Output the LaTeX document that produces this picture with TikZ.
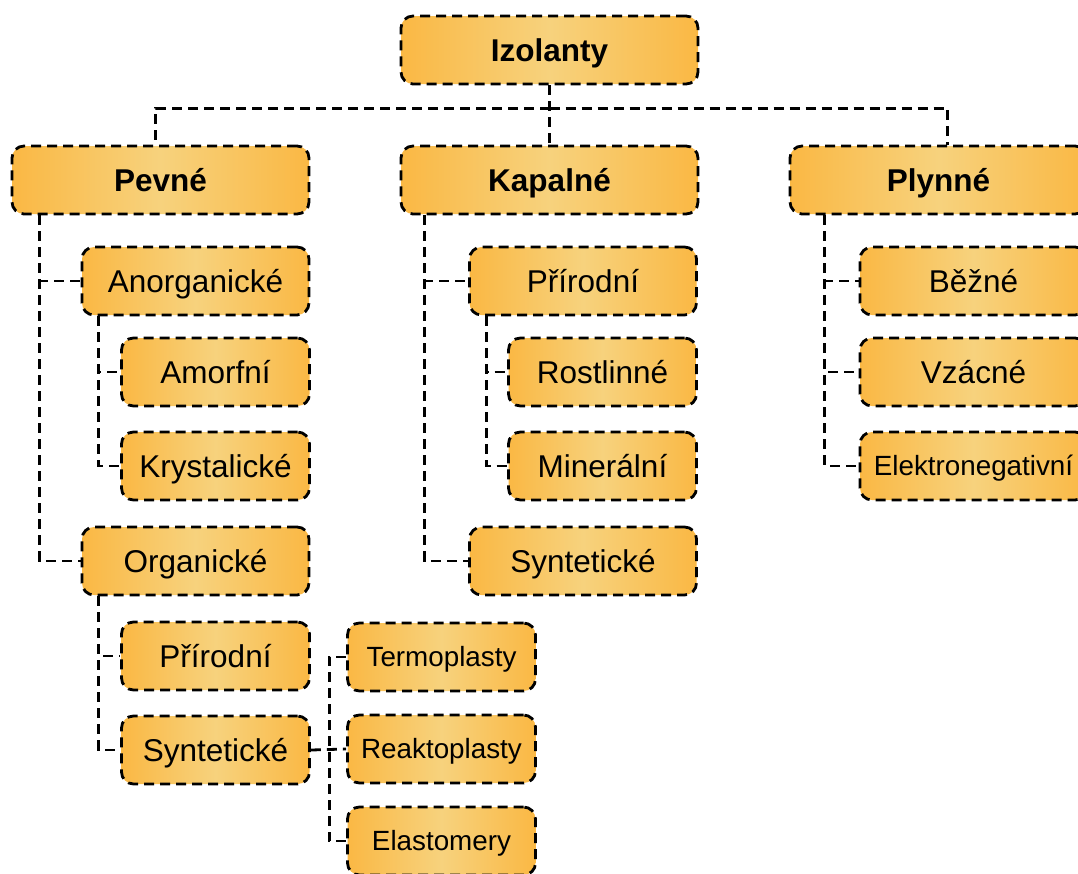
\documentclass[tikz,border=0pt]{standalone}
\usepackage{fontspec}
\setmainfont{Liberation Sans}
\usepackage{tikz}
\usetikzlibrary{shapes,arrows,positioning}

\definecolor{boxedge}{RGB}{250,184,68}
\definecolor{boxmid}{RGB}{247,210,125}

\begin{document}
\begin{tikzpicture}[x=1pt, y=-1pt,
      block_base/.style ={rectangle, rounded corners=12pt, draw=black,
        line width=2.8pt, dash pattern=on 10pt off 6pt,
        left color=boxedge, right color=boxedge, middle color=boxmid,
        text centered, inner sep=0pt, minimum height=68pt,
        text height=22.6pt, text depth=0pt},
      block_head/.style ={block_base, minimum width=297pt,
        font=\fontsize{31.5}{36}\selectfont\bfseries},
      block_wide/.style ={block_base, minimum width=227pt,
        font=\fontsize{31.5}{36}\selectfont},
      block_narrow/.style ={block_base, minimum width=188pt,
        font=\fontsize{31.5}{36}\selectfont},
      block_small/.style ={block_base, minimum width=188pt,
        text height=19.9pt, font=\fontsize{27.8}{32}\selectfont},
      block_gas/.style ={block_base, minimum width=227pt,
        font=\fontsize{31.5}{36}\selectfont},
      line/.style ={draw, line width=2.8pt, dash pattern=on 10pt off 6pt}]
    \clip (0,0) rectangle (1078,873);
    \useasboundingbox (0,0) rectangle (1078,873);
    %
    % 1. top level
    \node [block_head] (izol) at (549.5,50) {Izolanty};
    \node [block_head] (pevne) at (160.5,180) {Pevné};
    \node [block_head] (kapal) at (549.5,180) {Kapalné};
    \node [block_head] (plyn) at (938.5,180) {Plynné};
    %
    % 2. solids
    \node [block_wide] (anorg) at (195.5,281) {Anorganické};
    \node [block_narrow] (amorf) at (215.5,372) {Amorfní};
    \node [block_narrow] (kryst) at (215.5,466) {Krystalické};
    \node [block_wide] (org) at (195.5,561) {Organické};
    \node [block_narrow] (org_prir) at (215.5,656) {Přírodní};
    \node [block_narrow] (org_synt) at (215.5,750) {Syntetické};
    \node [block_small] (termo) at (441.5,657) {Termoplasty};
    \node [block_small] (reakto) at (441.5,749) {Reaktoplasty};
    \node [block_small] (elast) at (441.5,841) {Elastomery};
    %
    % 3. liquids
    \node [block_wide] (kap_prir) at (583,281) {Přírodní};
    \node [block_narrow] (rostl) at (602.5,372) {Rostlinné};
    \node [block_narrow] (miner) at (602.5,466) {Minerální};
    \node [block_wide] (kap_synt) at (583,561) {Syntetické};
    %
    % 4. gases
    \node [block_gas] (bezne) at (973.5,281) {Běžné};
    \node [block_gas] (vzacne) at (973.5,372) {Vzácné};
    \node [block_small, minimum width=227pt] (elneg) at (973.5,466) {Elektronegativní};
    %
    % 5. connecting nodes with paths
    \coordinate (hub) at ([yshift=-23pt]izol.south);
    \begin{scope}[every path/.style=line]
      % top level
      \path (izol.south) -- (kapal.north);
      \path (hub) -| ([xshift=-5pt]pevne.north);
      \path (hub) -| ([xshift=9pt]plyn.north);
      % solids
      \path ([xshift=29pt]pevne.south west) |- (anorg.west);
      \path ([xshift=29pt]pevne.south west) |- (org.west);
      \path ([xshift=18pt]anorg.south west) |- (amorf.west);
      \path ([xshift=18pt]anorg.south west) |- (kryst.west);
      \path ([xshift=18pt]org.south west) |- (org_prir.west);
      \path ([xshift=18pt]org.south west) |- (org_synt.west);
      \path (org_synt.east) -- (reakto.west);
      \path (termo.west) -- ++(-17,0) |- (elast.west);
      % liquids
      \path ([xshift=25pt]kapal.south west) |- (kap_prir.west);
      \path ([xshift=25pt]kapal.south west) |- (kap_synt.west);
      \path ([xshift=18pt]kap_prir.south west) |- (rostl.west);
      \path ([xshift=18pt]kap_prir.south west) |- (miner.west);
      % gases
      \path ([xshift=36pt]plyn.south west) |- (bezne.west);
      \path ([xshift=36pt]plyn.south west) |- (vzacne.west);
      \path ([xshift=36pt]plyn.south west) |- (elneg.west);
    \end{scope}
\end{tikzpicture}
\end{document}
